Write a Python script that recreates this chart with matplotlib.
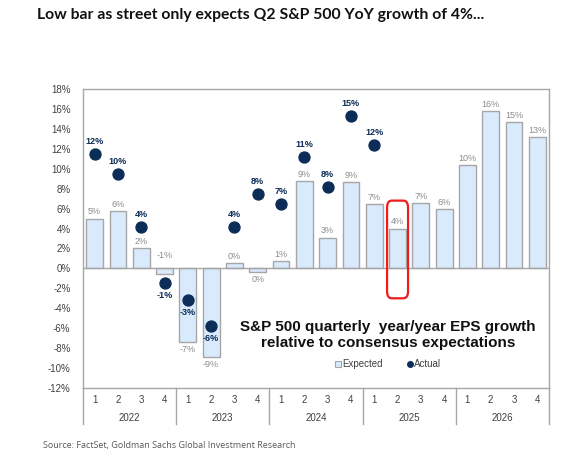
import matplotlib.pyplot as plt
from matplotlib.patches import FancyBboxPatch
from matplotlib.lines import Line2D
from matplotlib.transforms import blended_transform_factory

years = ["2022", "2023", "2024", "2025", "2026"]
quarters = ["1", "2", "3", "4"]

expected = [5.0, 5.8, 2.0, -0.6, -7.4, -8.9, 0.5, -0.35, 0.7, 8.8,
            3.1, 8.7, 6.5, 4.0, 6.6, 6.0, 10.4, 15.8, 14.7, 13.2]
expected_labels = ["5%", "6%", "2%", "-1%", "-7%", "-9%", "0%", "0%", "1%", "9%",
                   "3%", "9%", "7%", "4%", "7%", "6%", "10%", "16%", "15%", "13%"]

actual = [11.5, 9.5, 4.2, -1.5, -3.2, -5.8, 4.2, 7.5, 6.5, 11.2, 8.2, 15.3, 12.4]
actual_labels = ["12%", "10%", "4%", "-1%", "-3%", "-6%", "4%", "8%", "7%",
                 "11%", "8%", "15%", "12%"]

highlight_index = 13

bar_fill = "#d8eafc"
bar_edge = "#a6a6a6"
navy = "#0c2d57"
grey_text = "#8c8c8c"
axis_grey = "#a6a6a6"

plt.rcParams["font.family"] = ["Liberation Sans", "DejaVu Sans"]

fig = plt.figure(figsize=(5.87, 4.61), dpi=100)
ax = fig.add_axes([83 / 587, 1 - 388 / 461, 466 / 587, 299 / 461])

x = list(range(len(expected)))

ax.bar(x, expected, width=0.72, color=bar_fill, edgecolor=bar_edge,
       linewidth=1.0, zorder=2)
ax.scatter(range(len(actual)), actual, s=62, color=navy, zorder=3)

ax.axhline(0, color=axis_grey, linewidth=1.0, zorder=2.5)

for i, (val, lab) in enumerate(zip(expected, expected_labels)):
    if val >= 0 or i == 3:
        ax.annotate(lab, (i, max(val, 0)), xytext=(0, 1.5 if val >= 0 else 6),
                    textcoords="offset points", ha="center", va="bottom",
                    fontsize=6.5, color=grey_text)
    else:
        ax.annotate(lab, (i, val), xytext=(0, -2),
                    textcoords="offset points", ha="center", va="top",
                    fontsize=6.5, color=grey_text)

for i, (val, lab) in enumerate(zip(actual, actual_labels)):
    if val >= 0:
        ax.annotate(lab, (i, val), xytext=(0, 5.5),
                    textcoords="offset points", ha="center", va="bottom",
                    fontsize=6.5, color=navy, fontweight="bold")
    else:
        ax.annotate(lab, (i, val), xytext=(0, -5.5),
                    textcoords="offset points", ha="center", va="top",
                    fontsize=6.5, color=navy, fontweight="bold")

# red box around the Q2 2025 expectation
box = FancyBboxPatch((highlight_index - 0.45, -3.0), 0.9, 9.8,
                     boxstyle="round,pad=0,rounding_size=0.2",
                     mutation_aspect=3.5,
                     fill=False, edgecolor="#ee1c1c", linewidth=1.6, zorder=4)
ax.add_patch(box)

ax.set_xlim(-0.5, len(expected) - 0.5)
ax.set_ylim(-12, 18)
ax.set_yticks(range(-12, 19, 2))
ax.set_yticklabels([f"{t}%" for t in range(-12, 19, 2)],
                   fontsize=7, color="#404040")
ax.tick_params(axis="y", length=0, pad=9)
ax.set_xticks([])

for side in ax.spines.values():
    side.set_color(axis_grey)
    side.set_linewidth(1.0)

# category axis below the plot: quarters and years
trans = blended_transform_factory(ax.transData, ax.transAxes)
for i in x:
    ax.text(i, -0.04, quarters[i % 4], transform=trans, ha="center",
            va="center", fontsize=7, color="#404040")
for k, yr in enumerate(years):
    ax.text(k * 4 + 1.5, -0.10, yr, transform=trans, ha="center",
            va="center", fontsize=7, color="#404040")
for k in range(len(years) + 1):
    ax.add_line(Line2D([k * 4 - 0.5, k * 4 - 0.5], [0, -0.12],
                       transform=trans, color=axis_grey, linewidth=1.0,
                       clip_on=False))

ax.text(0.654, 0.176, "S&P 500 quarterly  year/year EPS growth\nrelative to consensus expectations",
        transform=ax.transAxes, ha="center", va="center", fontsize=11,
        fontweight="bold", color="#111111", linespacing=1.18)

handles = [
    Line2D([], [], marker="s", linestyle="none", markersize=5,
           markerfacecolor=bar_fill, markeredgecolor=bar_edge,
           markeredgewidth=0.8, label="Expected"),
    Line2D([], [], marker="o", linestyle="none", markersize=4,
           markerfacecolor=navy, markeredgecolor=navy, label="Actual"),
]
ax.legend(handles=handles, loc="center", bbox_to_anchor=(0.655, 0.08),
          ncol=2, frameon=False, fontsize=7, handlelength=0.6,
          handletextpad=0.1, columnspacing=2.5, labelcolor="#404040")

fig.text(37 / 587, 1 - 15 / 461,
         "Low bar as street only expects Q2 S&P 500 YoY growth of 4%...",
         ha="left", va="center", fontsize=11.3, fontweight="bold",
         family=["Lato", "DejaVu Sans"], color="#111111")
fig.text(43 / 587, 1 - 445 / 461,
         "Source: FactSet, Goldman Sachs Global Investment Research",
         ha="left", va="center", fontsize=6.5, color="#595959",
         family=["Open Sans", "DejaVu Sans"])

fig.savefig("out.png", dpi=100)
